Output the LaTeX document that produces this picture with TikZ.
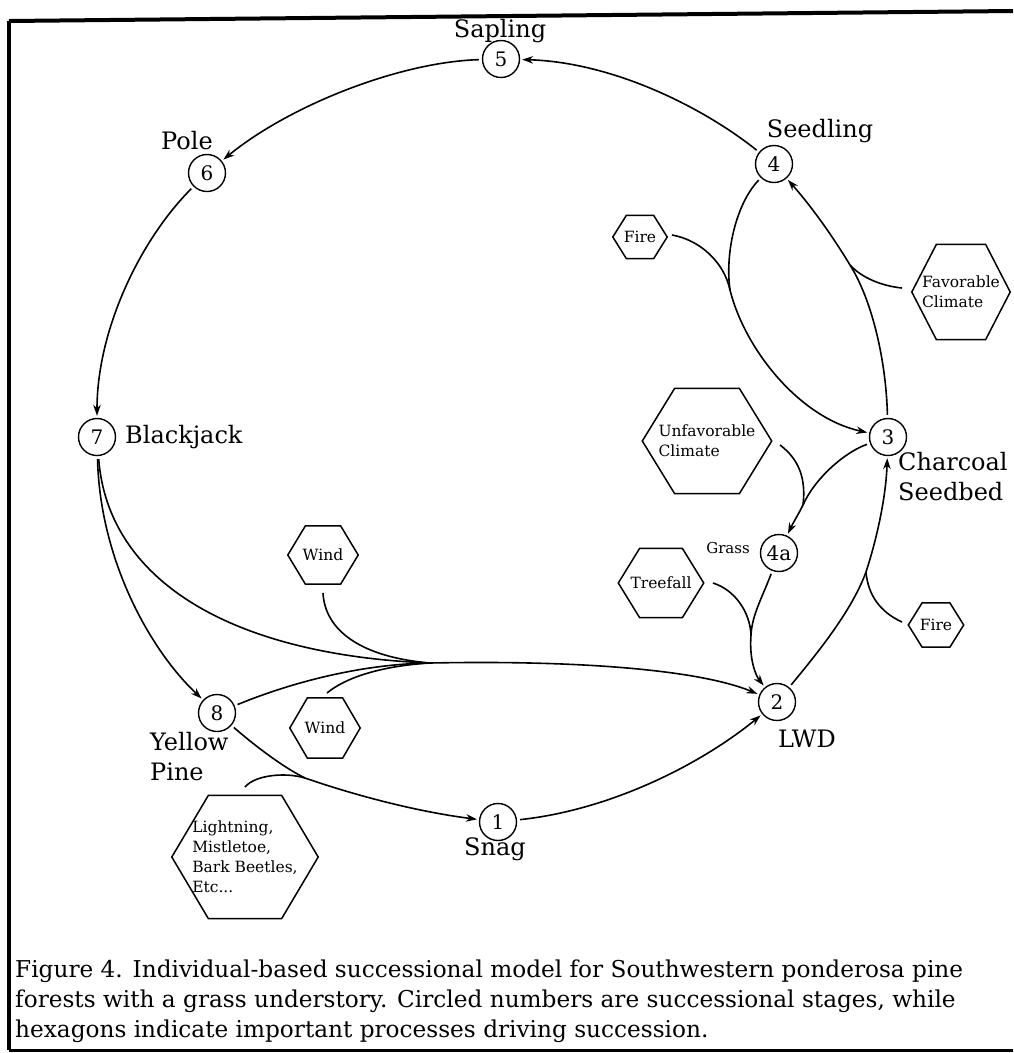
\documentclass[tikz,border=0pt]{standalone}
\usepackage{fontspec}
\setmainfont{DejaVu Serif}
\usetikzlibrary{arrows.meta,calc}
\newcommand\hexframe[1]{%
  \draw[hexline] (#1.west) -- ($(#1.north west)!.25!(#1.north east)$) -- ($(#1.north west)!.75!(#1.north east)$) -- (#1.east) -- ($(#1.south west)!.75!(#1.south east)$) -- ($(#1.south west)!.25!(#1.south east)$) -- cycle;}
\begin{document}
\begin{tikzpicture}[x=1pt,y=-1pt,
  stage/.style={circle,draw,line width=1.4pt,minimum size=37pt,inner sep=0pt,font=\fontsize{20}{20}\selectfont},
  lbl/.style={inner sep=0pt,font=\fontsize{24}{26}\selectfont},
  small/.style={inner sep=0pt,font=\fontsize{15}{18}\selectfont},
  hexa/.style={inner sep=0pt,align=left,font=\fontsize{15.5}{20}\selectfont},
  hexline/.style={line width=1.5pt,line join=miter},
  conn/.style={line width=1.6pt,shorten >=2pt,shorten <=3pt,-{Stealth[length=11pt,width=7.5pt]}},
  feed/.style={line width=1.6pt},
  frame/.style={line width=4pt},
  caption/.style={inner sep=0pt,anchor=base west,font=\fontsize{23.2}{23}\selectfont}]
\useasboundingbox (0,0) rectangle (1013,1053);
\fill[white] (0,0) rectangle (1013,1053);
% frame
\coordinate (fa) at (9,21);
\coordinate (fb) at (1013,11);
\coordinate (fc) at (9,1050);
\coordinate (fd) at (1013,1050);
\draw[frame] (fa) -- (fb);
\draw[frame] (fa) -- (fc);
\draw[line width=3pt] (fc) -- (fd);
% stages
\node[stage] (n5) at (501,59) {5};
\node[stage] (n6) at (207,173) {6};
\node[stage] (n4) at (774,164) {4};
\node[stage] (n3) at (888,437) {3};
\node[stage] (n7) at (97,437) {7};
\node[stage] (n4a) at (779,553) {4a};
\node[stage] (n2) at (777,702) {2};
\node[stage] (n8) at (217,713) {8};
\node[stage] (n1) at (498,822) {1};
% stage labels
\node[lbl] (l5) at (500,31) {Sapling};
\node[lbl] (l6) at (187,141) {Pole};
\node[lbl] (l4) at (820,131) {Seedling};
\node[lbl,anchor=west] (l3a) at (898,462) {Charcoal};
\node[lbl,anchor=west] (l3b) at (898,492) {Seedbed};
\node[lbl,anchor=west] (l7) at (125,437) {Blackjack};
\node[small,anchor=east] (l4a) at (750,548) {Grass};
\node[lbl] (l2) at (807,739) {LWD};
\node[lbl,anchor=west] (l8a) at (150,742) {Yellow};
\node[lbl,anchor=west] (l8b) at (150,772) {Pine};
\node[lbl] (l1) at (495,849) {Snag};
% processes
\node[hexa,minimum width=54pt,minimum height=43pt] (fire1) at (640,237) {Fire};
\node[hexa,minimum width=98pt,minimum height=95pt] (fav) at (961,292) {Favorable\\Climate};
\node[hexa,minimum width=129pt,minimum height=105pt] (unfav) at (707,441) {Unfavorable\\Climate};
\node[hexa,minimum width=85pt,minimum height=69pt] (treefall) at (661,583) {Treefall};
\node[hexa,minimum width=55pt,minimum height=44pt] (fire2) at (936,625) {Fire};
\node[hexa,minimum width=70pt,minimum height=58pt] (wind1) at (323,555) {Wind};
\node[hexa,minimum width=70pt,minimum height=60pt] (wind2) at (325,728) {Wind};
\node[hexa,minimum width=146pt,minimum height=123pt] (light) at (245,857) {Lightning,\\Mistletoe,\\Bark Beetles,\\Etc...};
\foreach \h in {fire1,fav,unfav,treefall,fire2,wind1,wind2,light} {\hexframe{\h}}
% merge points and free ends
\coordinate (M) at (430,663);
\coordinate (M2) at (305,778);
\coordinate (M3) at (866,572);
\coordinate (M4) at (803,505);
\coordinate (M5) at (751,635);
\coordinate (M6) at (850,265);
\coordinate (M7) at (730,290);
\coordinate (sW1) at (323,593);
\coordinate (sW2) at (327,693);
\coordinate (sL) at (245,787);
\coordinate (sF2) at (902,622);
\coordinate (sU) at (780,445);
\coordinate (sT) at (713,583);
\coordinate (sFv) at (902,288);
\coordinate (sF1) at (672,235);
% main cycle
\draw[conn] (n4) .. controls (700,105) and (610,62) .. (n5);
\draw[conn] (n5) .. controls (400,62) and (290,105) .. (n6);
\draw[conn] (n6) .. controls (140,240) and (97,330) .. (n7);
\draw[conn] (n7) .. controls (100,560) and (150,650) .. (n8);
% to LWD
\draw[feed,shorten <=3pt] (n7) .. controls (108,580) and (230,655) .. (M);
\draw[feed,shorten <=3pt] (n8) .. controls (290,683) and (360,664) .. (M);
\draw[feed] (sW1) .. controls (325,630) and (360,657) .. (M);
\draw[feed] (sW2) .. controls (345,678) and (380,666) .. (M);
\draw[conn,shorten <=0pt] (M) .. controls (580,660) and (700,670) .. (n2);
% to snag
\draw[feed,shorten <=3pt] (n8) .. controls (260,750) and (285,768) .. (M2);
\draw[feed] (sL) .. controls (255,775) and (285,772) .. (M2);
\draw[conn,shorten <=0pt] (M2) .. controls (360,797) and (420,812) .. (n1);
\draw[conn] (n1) .. controls (610,810) and (700,765) .. (n2);
% LWD to charcoal seedbed
\draw[feed,shorten <=3pt] (n2) .. controls (820,650) and (852,610) .. (M3);
\draw[feed] (sF2) .. controls (880,612) and (868,595) .. (M3);
\draw[conn,shorten <=0pt] (M3) .. controls (878,535) and (886,495) .. (n3);
% seedbed to grass
\draw[feed,shorten <=3pt] (n3) .. controls (845,452) and (815,478) .. (M4);
\draw[feed] (sU) .. controls (800,460) and (806,480) .. (M4);
\draw[conn,shorten <=0pt] (M4) .. controls (798,515) and (793,523) .. (n4a);
% grass to LWD
\draw[feed,shorten <=3pt] (n4a) .. controls (762,598) and (752,615) .. (M5);
\draw[feed] (sT) .. controls (735,590) and (750,612) .. (M5);
\draw[conn,shorten <=0pt] (M5) .. controls (749,660) and (756,676) .. (n2);
% seedbed to seedling
\draw[feed,shorten <=3pt] (n3) .. controls (886,360) and (872,300) .. (M6);
\draw[feed] (sFv) .. controls (882,286) and (862,278) .. (M6);
\draw[conn,shorten <=0pt] (M6) .. controls (830,232) and (810,205) .. (n4);
% seedling to seedbed
\draw[feed,shorten <=3pt] (n4) .. controls (735,205) and (725,255) .. (M7);
\draw[feed] (sF1) .. controls (700,240) and (724,262) .. (M7);
\draw[conn,shorten <=0pt] (M7) .. controls (745,350) and (800,418) .. (n3);
% caption
\node[caption] (cap1) at (15,977) {Figure 4. Individual-based successional model for Southwestern ponderosa pine};
\node[caption] (cap2) at (15,1007) {forests with a grass understory. Circled numbers are successional stages, while};
\node[caption] (cap3) at (15,1037) {hexagons indicate important processes driving succession.};
\end{tikzpicture}
\end{document}
